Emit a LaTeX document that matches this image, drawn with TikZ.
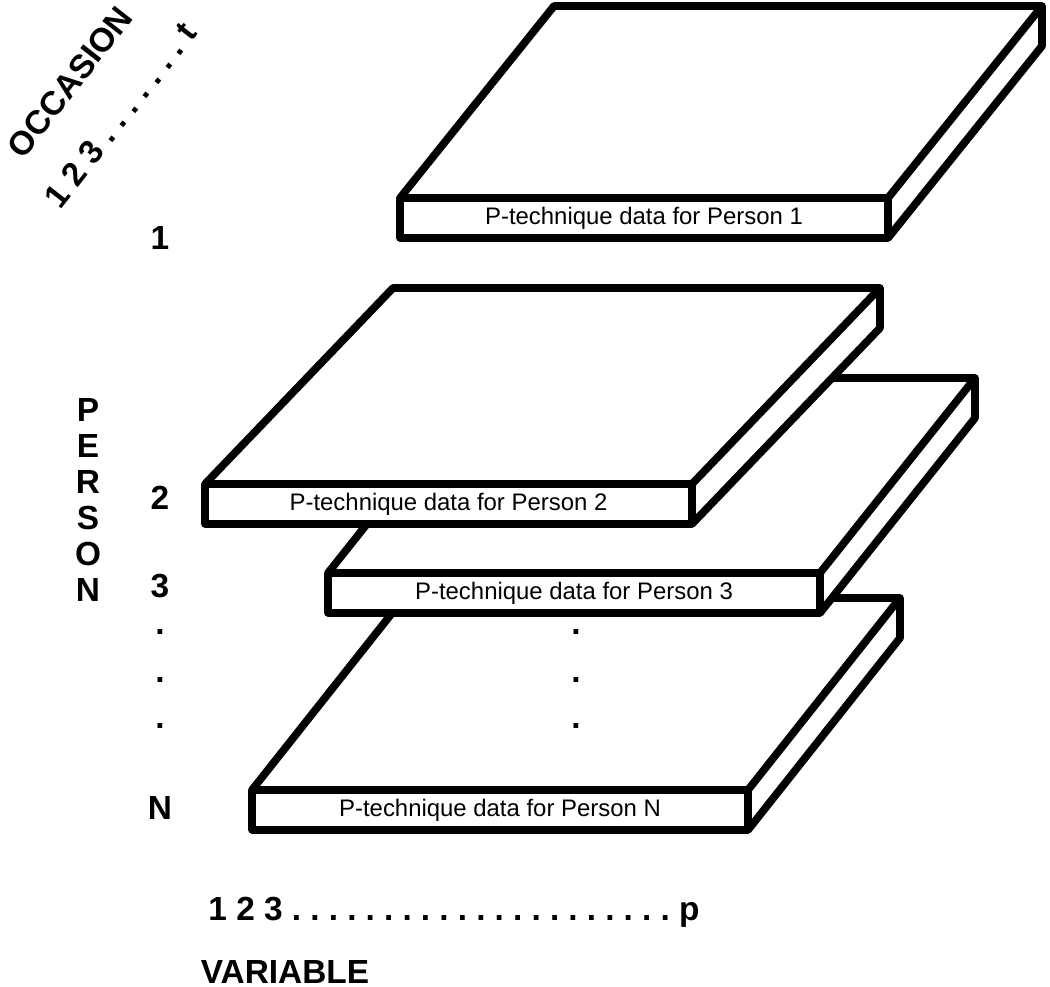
\documentclass[tikz,border=0pt]{standalone}
\usepackage{fontspec}
\setmainfont{Liberation Sans}
\usetikzlibrary{positioning}
\tikzset{
  slabline/.style={draw=black, fill=white, line width=2.2pt, line join=round},
  slabtext/.style={font=\fontsize{6.8}{7}\selectfont},
  axislabel/.style={font=\bfseries\fontsize{9.5}{10}\selectfont}
}
% #1 name, #2 front-left corner, #3 width, #4 dx, #5 dy, #6 text
\newcommand{\slab}[6]{%
  \coordinate (#1-fl) at #2;
  \draw[slabline] (#1-fl) -- ++(#4,-#5) -- ++(#3,0) -- ++(0,40) -- ++(-#4,#5) -- ++(-#3,0) -- cycle;
  \draw[slabline, fill=none] (#1-fl) -- ++(#3,0) -- ++(#4,-#5);
  \draw[slabline, fill=none] (#1-fl) ++(#3,0) -- ++(0,40);
  \node[slabtext] (#1-text) at ([shift={(#3/2,20)}]#1-fl) {#6};
}
\newcommand{\dotrun}[1]{\foreach \k in {1,...,#1}{.\hspace{2.6pt}}}
\begin{document}
\begin{tikzpicture}[x=0.01cm, y=-0.01cm]
  \useasboundingbox (0,0) rectangle (1050,987);
  % slabs, back to front
  \slab{slabN}{(252,790)}{496}{152}{192}{P-technique data for Person N}
  \slab{slab3}{(328,573)}{492}{155}{195}{P-technique data for Person 3}
  \slab{slab2}{(205,484)}{487}{188}{196}{P-technique data for Person 2}
  \slab{slab1}{(400,198)}{488}{154}{192}{P-technique data for Person 1}
  % occasion axis
  \node[axislabel, rotate=52, inner sep=0pt] (occ) at (70,82) {OCCASION};
  \node[axislabel, rotate=52, inner sep=0pt] (occnum) at (120,115) {1 2 3 \dotrun{7}t};
  % person axis
  \foreach \l [count=\i] in {P, E, R, S, O, N}
    \node[axislabel] (person-\i) at (88, 374 + 36 * \i) {\l};
  \node[axislabel] (p-1) at (160,238) {1};
  \node[axislabel] (p-2) at (160,498) {2};
  \node[axislabel] (p-3) at (160,586) {3};
  \node[axislabel] (p-N) at (160,808) {N};
  \foreach \y [count=\i] in {632, 680, 726} {
    \node[axislabel] (pdot-\i) at (160,\y) {.};
    \node[axislabel] (sdot-\i) at (576,\y) {.};
  }
  % variable axis
  \node[axislabel, anchor=west] (varnum) at (196,912) {1 2 3 \dotrun{21}p};
  \node[axislabel] (var) at (285,972) {VARIABLE};
\end{tikzpicture}
\end{document}
